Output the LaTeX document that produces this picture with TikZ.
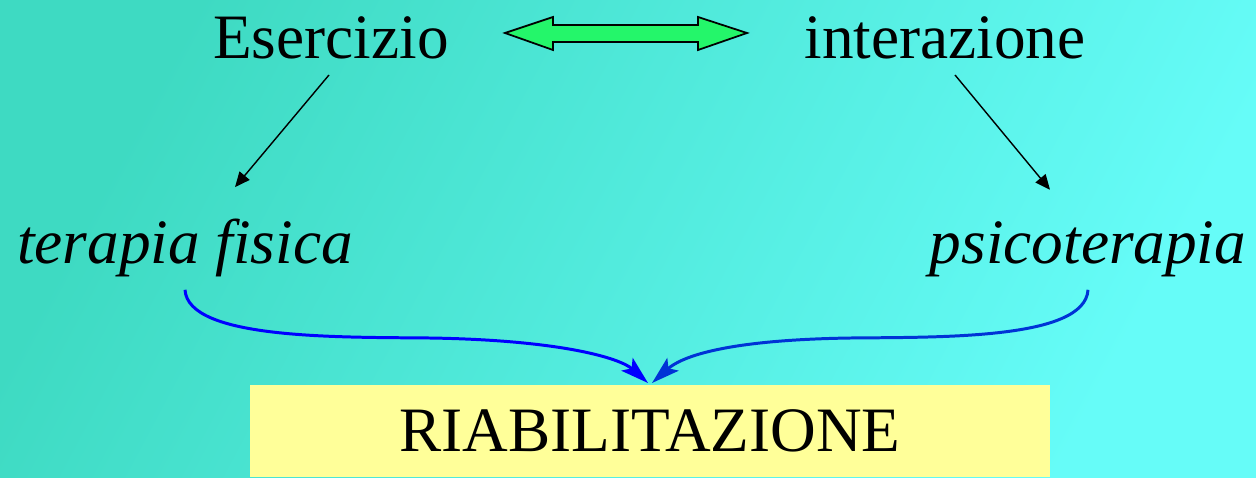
\documentclass[tikz,border=0pt]{standalone}
\usepackage{fontspec}
\setmainfont{Liberation Serif}
\usepackage{tikz}
\usetikzlibrary{arrows.meta,positioning}

\begin{document}
\begin{tikzpicture}[
    x=0.02cm, y=-0.02cm,
    word/.style={anchor=base, inner sep=0pt, font=\fontsize{36}{40}\selectfont},
    slant/.style={word, font=\fontsize{36}{40}\selectfont\itshape},
    resultbox/.style={fill={rgb,255:red,255;green,255;blue,153}, draw=none, minimum width=16cm,
                      minimum height=1.84cm, inner sep=0pt,
                      font=\fontsize{36}{40}\selectfont},
    arrow/.style={-{Triangle[length=0.3cm,width=0.26cm]}, line width=0.8pt},
    merge/.style={-{Stealth[length=0.56cm,width=0.34cm,inset=0.12cm]}, line width=1.7pt}
]

% Background
\useasboundingbox (0,0) rectangle (1256,477);
\shade[shading=axis, top color={rgb,255:red,62;green,218;blue,194},
       bottom color={rgb,255:red,102;green,252;blue,248}, shading angle=62]
  (0,0) rectangle (1256,477);

% Top row
\node[word] (ese) at (331,58) {Esercizio};
\node[word] (inter) at (945,58) {interazione};

% Double arrow between the two
\draw[fill={rgb,255:red,36;green,246;blue,106}, line width=1pt, line join=miter]
  (505,33) -- (553,17) -- (553,25) -- (698,25) -- (698,17) -- (747,33)
  -- (698,50) -- (698,42) -- (553,42) -- (553,50) -- cycle;

% Middle row
\node[slant] (fis) at (185,263) {terapia fisica};
\node[slant] (psi) at (1088,263) {psicoterapia};

\draw[arrow] ([xshift=-0.04cm,yshift=-0.32cm]ese.south) -- ([xshift=1cm,yshift=0.62cm]fis.north);
\draw[arrow] ([xshift=0.2cm,yshift=-0.32cm]inter.south) -- ([xshift=-0.76cm,yshift=0.62cm]psi.north);

% Result
\node[resultbox, anchor=north] (riab) at (650,385) {RIABILITAZIONE};

\draw[merge, blue] ([yshift=-0.26cm]fis.south) .. controls +(0.06cm,-1cm) and (340,337) .. (430,338)
  .. controls (560,340) and (620,358) .. ([xshift=-0.04cm,yshift=0.04cm]riab.north);
\draw[merge, blue!80!black!80!cyan] ([yshift=-0.26cm]psi.south) .. controls +(-0.06cm,-1cm) and (940,337) .. (850,338)
  .. controls (720,340) and (680,358) .. ([xshift=0.04cm,yshift=0.04cm]riab.north);

\end{tikzpicture}
\end{document}
